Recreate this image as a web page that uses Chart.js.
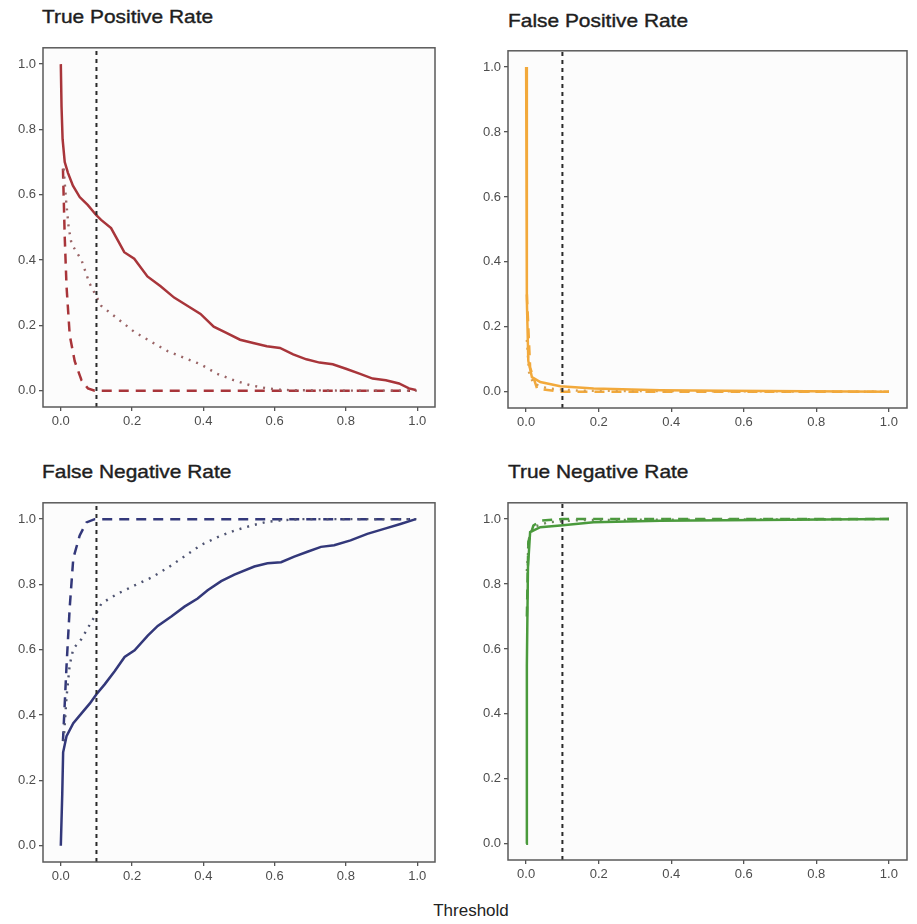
<!DOCTYPE html>
<html>
<head>
<meta charset="utf-8">
<script src="https://cdn.jsdelivr.net/npm/chart.js@4.4.0/dist/chart.umd.min.js"></script>
<style>
  body { margin: 0; background: #ffffff; width: 917px; height: 924px; position: relative; overflow: hidden; }
  canvas { position: absolute; }
  .title { position: absolute; font-family: "Liberation Sans", Arial, sans-serif; font-size: 19px; color: #1e1e1e; white-space: nowrap; transform: scaleX(1.1); transform-origin: left top; -webkit-text-stroke: 0.4px #1e1e1e; }
  .xlabel { position: absolute; font-family: "Liberation Sans", Arial, sans-serif; font-size: 17px; color: #222; left: 0; width: 942px; text-align: center; top: 901px; }
</style>
</head>
<body>
<div class="title" style="left:42px;top:6px">True Positive Rate</div>
<div class="title" style="left:508px;top:10px">False Positive Rate</div>
<div class="title" style="left:42px;top:461px">False Negative Rate</div>
<div class="title" style="left:508px;top:461px">True Negative Rate</div>
<div class="xlabel">Threshold</div>

<canvas id="tpr" width="434" height="396" style="left:3px;top:37px"></canvas>
<canvas id="fpr" width="441" height="394" style="left:468px;top:40px"></canvas>
<canvas id="fnr" width="434" height="396" style="left:3px;top:492px"></canvas>
<canvas id="tnr" width="441" height="394" style="left:468px;top:492px"></canvas>

<script>
// threshold marked by the vertical dashed line
const threshold = 0.1;
const axisMin = -0.05;
const axisMax = 1.05;
const tickValues = [0, 0.2, 0.4, 0.6, 0.8, 1.0];

// [threshold, rate] pairs
const tprSolid = [[0, 1.0], [0.002, 0.87], [0.005, 0.77], [0.011, 0.70], [0.02, 0.667], [0.034, 0.628],
  [0.053, 0.593], [0.076, 0.568], [0.099, 0.538], [0.113, 0.523], [0.141, 0.498], [0.16, 0.46],
  [0.178, 0.424], [0.206, 0.404], [0.243, 0.35], [0.28, 0.32], [0.318, 0.285], [0.355, 0.26],
  [0.392, 0.235], [0.429, 0.196], [0.466, 0.176], [0.503, 0.156], [0.54, 0.146], [0.578, 0.136],
  [0.615, 0.131], [0.652, 0.111], [0.689, 0.096], [0.726, 0.086], [0.763, 0.081], [0.8, 0.067],
  [0.838, 0.052], [0.875, 0.037], [0.912, 0.032], [0.949, 0.022], [0.977, 0.007], [0.996, 0.002]];
const tprDotted = [[0.008, 0.68], [0.015, 0.58], [0.022, 0.5], [0.03, 0.45], [0.058, 0.40], [0.08, 0.33],
  [0.099, 0.29], [0.113, 0.26], [0.16, 0.22], [0.206, 0.18], [0.253, 0.15], [0.3, 0.121],
  [0.345, 0.101], [0.392, 0.081], [0.438, 0.052], [0.485, 0.032], [0.53, 0.017], [0.578, 0.007],
  [0.624, 0.002], [0.8, 0.0], [1.0, 0.0]];
const tprDashed = [[0.006, 0.68], [0.011, 0.47], [0.016, 0.32], [0.025, 0.17], [0.039, 0.09],
  [0.058, 0.032], [0.076, 0.007], [0.095, 0.0], [0.98, 0.0]];

const fprSolid = [[0, 1.0], [0.002, 0.28], [0.006, 0.095], [0.016, 0.045], [0.039, 0.03], [0.094, 0.017],
  [0.186, 0.01], [0.37, 0.005], [0.55, 0.003], [1.0, 0.0]];
const fprDotted = [[0.002, 0.16], [0.008, 0.06], [0.02, 0.025], [0.06, 0.01], [0.15, 0.003], [1.0, 0.0]];
const fprDashed = [[0.002, 0.3], [0.011, 0.075], [0.03, 0.01], [0.094, 0.0], [0.3, 0.0], [1.0, 0.0]];

const fnrSolid = [[0, 0], [0.004, 0.157], [0.0065, 0.286], [0.016, 0.335], [0.035, 0.375], [0.058, 0.405],
  [0.081, 0.435], [0.1, 0.464], [0.123, 0.494], [0.151, 0.534], [0.179, 0.578], [0.207, 0.598],
  [0.244, 0.643], [0.272, 0.673], [0.31, 0.702], [0.347, 0.732], [0.384, 0.757], [0.412, 0.782],
  [0.45, 0.81], [0.487, 0.83], [0.543, 0.855], [0.58, 0.865], [0.618, 0.868], [0.655, 0.885],
  [0.692, 0.9], [0.73, 0.915], [0.767, 0.92], [0.813, 0.935], [0.86, 0.955], [0.907, 0.97],
  [0.953, 0.985], [0.996, 1.0]];
const fnrDotted = [[0.008, 0.32], [0.016, 0.455], [0.025, 0.554], [0.035, 0.603], [0.058, 0.633],
  [0.1, 0.712], [0.114, 0.742], [0.16, 0.772], [0.207, 0.797], [0.254, 0.821], [0.3, 0.851],
  [0.347, 0.886], [0.394, 0.921], [0.44, 0.945], [0.487, 0.965], [0.534, 0.98], [0.58, 0.992],
  [0.627, 0.997], [0.674, 1.0], [1.0, 1.0]];
const fnrDashed = [[0.006, 0.32], [0.016, 0.55], [0.025, 0.73], [0.035, 0.88], [0.053, 0.95],
  [0.072, 0.99], [0.095, 1.0], [0.98, 1.0]];

const tnrSolid = [[0, 0], [0.002, 0.55], [0.005, 0.85], [0.011, 0.96], [0.039, 0.975], [0.094, 0.98],
  [0.186, 0.99], [0.37, 0.995], [1.0, 1.0]];
const tnrDotted = [[0.002, 0.84], [0.008, 0.94], [0.02, 0.975], [0.06, 0.99], [0.15, 0.997], [1.0, 1.0]];
const tnrDashed = [[0.002, 0.7], [0.006, 0.93], [0.02, 0.98], [0.04, 0.995], [0.1, 1.0], [1.0, 1.0]];

const toPoints = (pairs) => pairs.map(([x, y]) => ({ x, y }));

// plot box and light panel fill
const panelBox = {
  id: "panelBox",
  beforeDatasetsDraw(chart) {
    const { ctx, chartArea: a } = chart;
    ctx.save();
    ctx.fillStyle = "#fcfcfc";
    ctx.fillRect(a.left, a.top, a.right - a.left, a.bottom - a.top);
    ctx.restore();
  },
  afterDraw(chart) {
    const { ctx, chartArea: a } = chart;
    ctx.save();
    ctx.strokeStyle = "#5a5a5a";
    ctx.lineWidth = 1.5;
    ctx.strokeRect(a.left, a.top, a.right - a.left, a.bottom - a.top);
    ctx.restore();
  },
};

const axisOptions = (fitKey, fitSize) => ({
  type: "linear",
  min: axisMin,
  max: axisMax,
  afterBuildTicks: (scale) => {
    scale.ticks = tickValues.map((value) => ({ value }));
  },
  afterFit: (scale) => {
    scale[fitKey] = fitSize;
  },
  border: { display: false },
  grid: { drawOnChartArea: false, drawTicks: true, tickLength: 4, color: "#555", lineWidth: 1.3 },
  ticks: {
    color: "#4d4d4d",
    padding: 3,
    maxRotation: 0,
    font: { family: "'Liberation Sans', Arial, sans-serif", size: 13 },
    callback: (v) => Number(v).toFixed(1),
  },
});

const createPanel = (id, color, dotColor, solid, dotted, dashed) => {
  const line = (data, borderColor, dash, width) => ({
    data: toPoints(data),
    borderColor,
    borderWidth: width,
    borderDash: dash,
    pointRadius: 0,
    tension: 0,
    fill: false,
  });
  return new Chart(document.getElementById(id).getContext("2d"), {
    type: "line",
    data: {
      datasets: [
        line([[threshold, axisMin], [threshold, axisMax]], "#2a2a2a", [4, 4], 2),
        line(solid, color, [], 2.5),
        line(dotted, dotColor, [2, 6], 2.4),
        line(dashed, color, [10, 7], 2.5),
      ],
    },
    options: {
      responsive: false,
      animation: false,
      layout: { padding: { top: 1, right: 2, left: 0, bottom: 0 } },
      scales: {
        x: axisOptions("height", 26),
        y: axisOptions("width", 40),
      },
      plugins: {
        legend: { display: false },
        tooltip: { enabled: false },
      },
    },
    plugins: [panelBox],
  });
};

createPanel("tpr", "#a8353a", "#9a6466", tprSolid, tprDotted, tprDashed);
createPanel("fpr", "#f2a93b", "#d9a050", fprSolid, fprDotted, fprDashed);
createPanel("fnr", "#33387a", "#4f5472", fnrSolid, fnrDotted, fnrDashed);
createPanel("tnr", "#4a9a3c", "#6a8a5a", tnrSolid, tnrDotted, tnrDashed);
</script>
</body>
</html>
